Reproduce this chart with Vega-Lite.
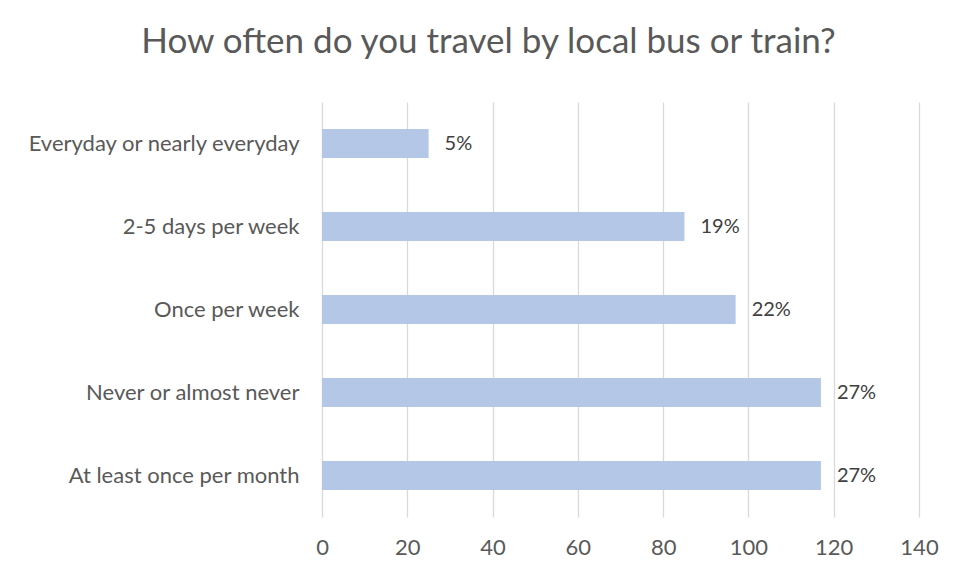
{
  "$schema": "https://vega.github.io/schema/vega-lite/v6.json",
  "autosize": "none",
  "width": 597,
  "height": 415,
  "padding": {"left": 322, "top": 102, "right": 38, "bottom": 58},
  "background": "white",
  "title": {
    "text": "How often do you travel by local bus or train?",
    "anchor": "middle",
    "frame": "group",
    "dx": -132,
    "baseline": "alphabetic",
    "offset": 14,
    "font": "Lato",
    "fontSize": 35,
    "fontWeight": "normal",
    "color": "#595959"
  },
  "data": {
    "values": [
      {"category": "Everyday or nearly everyday", "count": 25, "label": "5%"},
      {"category": "2-5 days per week", "count": 85, "label": "19%"},
      {"category": "Once per week", "count": 97, "label": "22%"},
      {"category": "Never or almost never", "count": 117, "label": "27%"},
      {"category": "At least once per month", "count": 117, "label": "27%"}
    ]
  },
  "encoding": {
    "y": {
      "field": "category",
      "type": "nominal",
      "sort": null,
      "scale": {"paddingInner": 0.65, "paddingOuter": 0.325},
      "axis": {
        "title": null,
        "domain": false,
        "ticks": false,
        "labelPadding": 23,
        "labelFont": "Lato",
        "labelFontSize": 22,
        "labelColor": "#595959",
        "labelLimit": 400
      }
    },
    "x": {
      "field": "count",
      "type": "quantitative",
      "scale": {"domain": [0, 140], "nice": false},
      "axis": {
        "title": null,
        "values": [0, 20, 40, 60, 80, 100, 120, 140],
        "domain": false,
        "ticks": false,
        "grid": true,
        "gridColor": "#D9D9D9",
        "gridWidth": 1.3,
        "labelFlush": false,
        "labelPadding": 20,
        "labelFont": "Lato",
        "labelFontSize": 22,
        "labelColor": "#595959"
      }
    }
  },
  "layer": [
    {"mark": {"type": "bar", "color": "#B4C7E7"}},
    {
      "mark": {"type": "text", "align": "left", "dx": 16, "font": "Lato", "fontSize": 20, "color": "#404040"},
      "encoding": {"text": {"field": "label"}}
    }
  ],
  "config": {"view": {"stroke": null}}
}
